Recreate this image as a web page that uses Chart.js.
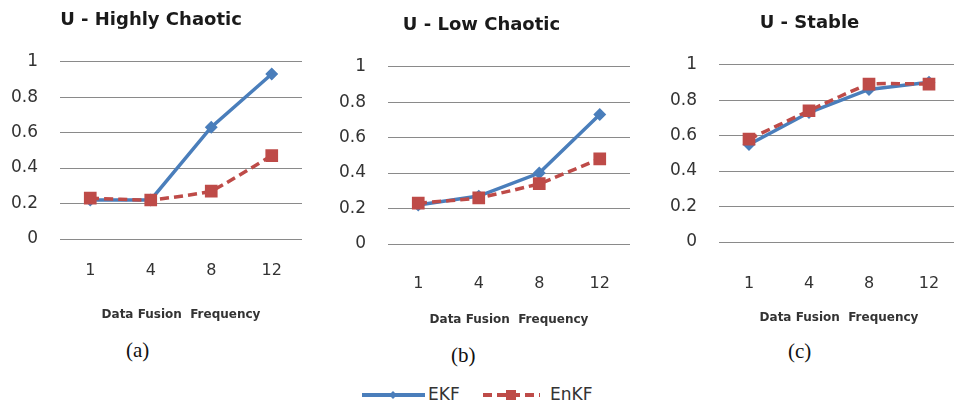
<!DOCTYPE html>
<html>
<head>
<meta charset="utf-8">
<script src="https://cdn.jsdelivr.net/npm/chart.js@4.4.1/dist/chart.umd.min.js"></script>
<style>
  body { margin: 0; width: 954px; height: 407px; overflow: hidden; background: #fff; position: relative; font-family: "DejaVu Sans", sans-serif; }
  canvas { position: absolute; }
  .tag { position: absolute; font-family: "Liberation Serif", serif; font-size: 21px; color: #111; line-height: 1; }
  #legend { position: absolute; left: 355px; top: 383px; }
  .key { position: absolute; top: 1px; font-size: 17px; color: #333; }
</style>
</head>
<body>
<canvas id="chartHigh" width="312" height="326" style="left:0px; top:0px;"></canvas>
<canvas id="chartLow" width="310" height="326" style="left:330px; top:5px;"></canvas>
<canvas id="chartStable" width="316" height="326" style="left:660px; top:3px;"></canvas>

<div class="tag" style="left:126px; top:340px;">(a)</div>
<div class="tag" style="left:451px; top:345px;">(b)</div>
<div class="tag" style="left:788px; top:341px;">(c)</div>

<div id="legend">
  <svg width="240" height="24" style="position:absolute; left:0; top:0;">
    <line x1="7" y1="12" x2="70" y2="12" stroke="#4a7ebb" stroke-width="4"/>
    <polygon points="38,8 42,12 38,16 34,12" fill="#4a7ebb"/>
    <line x1="128" y1="12" x2="185" y2="12" stroke="#be4b48" stroke-width="4" stroke-dasharray="9 5"/>
    <rect x="151" y="7" width="10" height="10" fill="#be4b48"/>
  </svg>
  <span class="key" style="left:73px;">EKF</span>
  <span class="key" style="left:195px;">EnKF</span>
</div>

<script>
const freqLabels = ['1', '4', '8', '12'];

const ekfHighChaos = [0.22, 0.22, 0.63, 0.93];
const enkfHighChaos = [0.23, 0.22, 0.27, 0.47];

const ekfLowChaos = [0.22, 0.27, 0.40, 0.73];
const enkfLowChaos = [0.23, 0.26, 0.34, 0.48];

const ekfStable = [0.55, 0.73, 0.86, 0.90];
const enkfStable = [0.58, 0.74, 0.89, 0.89];

const blue = '#4a7ebb';
const red = '#be4b48';

Chart.defaults.font.family = '"DejaVu Sans", sans-serif';

// 1 instead of 1.0, 0.2 instead of 0.20
const tickText = v => String(+v.toFixed(1));

function makePanel(canvasId, title, ekf, enkf, yWidth, rightPad, xLabelPad) {
  const ctx = document.getElementById(canvasId).getContext('2d');
  return new Chart(ctx, {
    type: 'line',
    data: {
      labels: freqLabels,
      datasets: [
        {
          label: 'EKF',
          data: ekf,
          borderColor: blue,
          backgroundColor: blue,
          borderWidth: 3.5,
          pointStyle: 'rectRot',
          pointRadius: 4,
          tension: 0,
          order: 2
        },
        {
          label: 'EnKF',
          data: enkf,
          borderColor: red,
          backgroundColor: red,
          borderWidth: 3.5,
          borderDash: [9, 5],
          pointStyle: 'rect',
          pointRadius: 6.5,
          tension: 0.1,
          order: 1
        }
      ]
    },
    options: {
      responsive: false,
      animation: false,
      devicePixelRatio: 1,
      layout: { padding: { left: 0, right: rightPad, top: 0, bottom: 0 } },
      plugins: {
        legend: { display: false },
        tooltip: { enabled: false },
        title: {
          display: true,
          text: title,
          color: '#1a1a1a',
          font: { size: 18, weight: 'bold' },
          padding: { top: 10, bottom: 30 }
        }
      },
      scales: {
        x: {
          offset: true,
          grid: { display: false },
          border: { display: false },
          ticks: { padding: xLabelPad, color: '#333', font: { size: 16 } },
          title: {
            display: true,
            text: 'Data Fusion  Frequency',
            color: '#333',
            font: { size: 12, weight: 'bold' },
            padding: { top: 4, bottom: 4 }
          },
          afterFit: s => { s.height = 87; }
        },
        y: {
          min: 0,
          max: 1,
          ticks: { stepSize: 0.2, padding: 22, color: '#333', font: { size: 17 }, callback: tickText },
          grid: { color: '#8a8a8a', lineWidth: 1, drawTicks: false },
          border: { display: false },
          afterFit: s => { s.width = yWidth; }
        }
      }
    }
  });
}

makePanel('chartHigh', 'U - Highly Chaotic', ekfHighChaos, enkfHighChaos, 60, 10, 14);
makePanel('chartLow', 'U - Low Chaotic', ekfLowChaos, enkfLowChaos, 58, 7, 22);
makePanel('chartStable', 'U - Stable', ekfStable, enkfStable, 59, 17, 24);
</script>
</body>
</html>
